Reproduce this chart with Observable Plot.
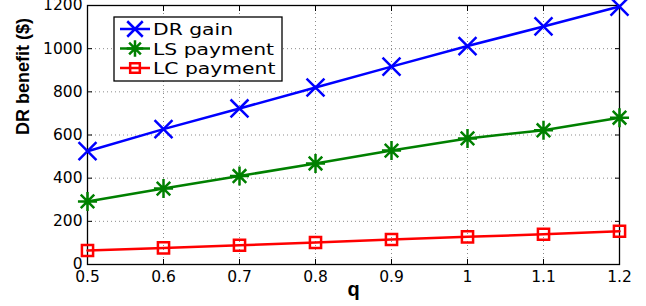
<!DOCTYPE html>
<html>
<head>
<meta charset="utf-8">
<script src="https://cdn.jsdelivr.net/npm/d3@7"></script>
<script src="https://cdn.jsdelivr.net/npm/@observablehq/plot@0.6"></script>
<style>
  html, body { margin: 0; padding: 0; background: #fff; }
  #chart svg { display: block; }
</style>
</head>
<body>
<div id="chart"></div>
<script>
const q = [0.5, 0.6, 0.7, 0.8, 0.9, 1.0, 1.1, 1.2];
const drGain = [525, 627, 723, 820, 917, 1012, 1103, 1195];
const lsPayment = [292, 352, 410, 468, 528, 584, 622, 680];
const lcPayment = [65, 77, 89, 102, 116, 128, 140, 154];
const xTicks = [0.5, 0.6, 0.7, 0.8, 0.9, 1.0, 1.1, 1.2];
const xTickLabels = ["0.5", "0.6", "0.7", "0.8", "0.9", "1", "1.1", "1.2"];
const yTicks = [0, 200, 400, 600, 800, 1000, 1200];
const seriesNames = ["DR gain", "LS payment", "LC payment"];
const seriesColors = ["#0000ff", "#008000", "#ff0000"];

const seriesValues = [drGain, lsPayment, lcPayment];
// MATLAB-style 8-armed asterisk
const symbolStar8 = {
  draw(context, size) {
    const r = Math.sqrt(size) * 0.58;
    const d = r * Math.SQRT1_2;
    context.moveTo(0, -r); context.lineTo(0, r);
    context.moveTo(-r, 0); context.lineTo(r, 0);
    context.moveTo(-d, -d); context.lineTo(d, d);
    context.moveTo(-d, d); context.lineTo(d, -d);
  }
};
const symbols = [d3.symbolTimes, symbolStar8, d3.symbolSquare];
const symbolR = [8.2, 9.3, 6.3];
const data = [];
seriesValues.forEach((vals, s) => vals.forEach((v, i) => data.push({q: q[i], v, s: seriesNames[s]})));

const fmtX = d => { const i = xTicks.findIndex(t => Math.abs(t - d) < 1e-9); return i >= 0 ? xTickLabels[i] : ""; };

const marks = [
  Plot.gridX(xTicks, {stroke: "#000", strokeOpacity: 0.45, strokeDasharray: "1,3", strokeWidth: 1}),
  Plot.gridY(yTicks, {stroke: "#000", strokeOpacity: 0.45, strokeDasharray: "1,3", strokeWidth: 1}),
  Plot.frame({stroke: "#000", strokeWidth: 1.3}),
  Plot.axisX(xTicks, {anchor: "bottom", tickSize: -5, tickPadding: 11, tickFormat: fmtX, fontSize: 15.5, fontFamily: "DejaVu Sans", fill: "#000", label: null}),
  Plot.axisX(xTicks, {anchor: "top", tickSize: -5, tickFormat: () => "", label: null}),
  Plot.axisY(yTicks, {anchor: "left", tickSize: -5, tickPadding: 10, tickFormat: d => String(d), fontSize: 15.5, fontFamily: "DejaVu Sans", fill: "#000", label: null}),
  Plot.axisY(yTicks, {anchor: "right", tickSize: -5, tickFormat: () => "", label: null}),
];
seriesNames.forEach((name, s) => {
  const d = data.filter(r => r.s === name);
  marks.push(Plot.line(d, {x: "q", y: "v", stroke: seriesColors[s], strokeWidth: 2.5}));
  marks.push(Plot.dot(d, {x: "q", y: "v", stroke: seriesColors[s], strokeWidth: 2.5, fill: "none", symbol: symbols[s], r: symbolR[s]}));
});
marks.push(Plot.text(["DR benefit ($)"], {text: d => d, frameAnchor: "left", dx: -64, rotate: -90, fontSize: 18, fontWeight: "bold", fontFamily: "Liberation Sans", fill: "#000"}));
marks.push(Plot.text(["q"], {text: d => d, frameAnchor: "bottom", dy: 31, fontSize: 20, fontWeight: "bold", fontFamily: "Liberation Sans", fill: "#000"}));

const chart = Plot.plot({
  width: 646,
  height: 306,
  marginLeft: 87,
  marginRight: 27,
  marginTop: 5,
  marginBottom: 42,
  x: {domain: [0.5, 1.2]},
  y: {domain: [0, 1200]},
  style: {background: "#fff", color: "#000"},
  marks
});
document.getElementById("chart").appendChild(chart);

// Legend (MATLAB-style box)
const svg = d3.select(chart);
const lg = svg.append("g").attr("transform", "translate(114,17)");
lg.append("rect").attr("width", 168).attr("height", 64).attr("fill", "#fff").attr("stroke", "#000").attr("stroke-width", 1.3);
seriesNames.forEach((name, s) => {
  const cy = 12 + s * 19.5;
  lg.append("line").attr("x1", 6).attr("x2", 36).attr("y1", cy).attr("y2", cy)
    .attr("stroke", seriesColors[s]).attr("stroke-width", 2.5);
  lg.append("path").attr("transform", `translate(21,${cy})`)
    .attr("d", d3.symbol(symbols[s], Math.PI * symbolR[s] * symbolR[s] * 0.75)())
    .attr("fill", "none").attr("stroke", seriesColors[s]).attr("stroke-width", 2.5);
  lg.append("text").attr("transform", `translate(39,${cy + 6}) scale(1.27,1)`)
    .attr("text-anchor", "start")
    .attr("font-family", "DejaVu Sans").attr("font-size", 16).attr("fill", "#000")
    .text(name);
});
</script>
</body>
</html>
